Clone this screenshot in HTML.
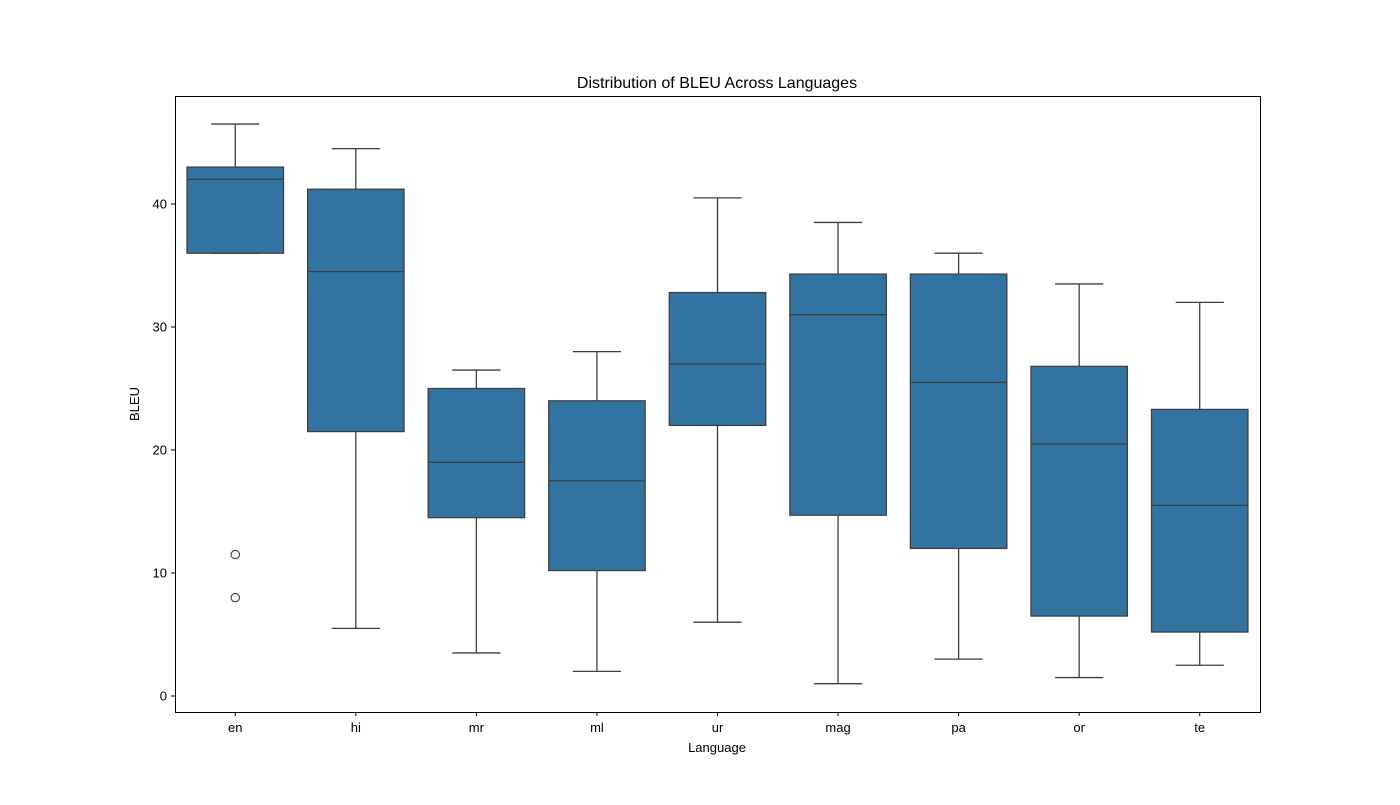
<!DOCTYPE html>
<html><head><meta charset="utf-8"><style>
body{margin:0;background:#fff;}
svg text{font-family:"Liberation Sans","DejaVu Sans",sans-serif;fill:#000;}
</style></head><body>
<svg id="chart" width="1400" height="800" xmlns="http://www.w3.org/2000/svg">
<rect width="1400" height="800" fill="#fff"/>
<text x="717" y="88" font-size="16" text-anchor="middle">Distribution of BLEU Across Languages</text>
<g id="marks"></g>
<g id="axes"></g>
<rect x="175.5" y="96.5" width="1085" height="616" fill="none" stroke="#000" stroke-width="1"/>
<text x="717" y="752" font-size="13" text-anchor="middle">Language</text>
<text x="139" y="404" font-size="13" text-anchor="middle" transform="rotate(-90 139 404)">BLEU</text>
</svg>
<script>
const categories=["en","hi","mr","ml","ur","mag","pa","or","te"];
const whiskerLow=[36,5.5,3.5,2,6,1,3,1.5,2.5];
const q1=[36,21.5,14.5,10.2,22,14.7,12,6.5,5.2];
const median=[42,34.5,19,17.5,27,31,25.5,20.5,15.5];
const q3=[43,41.2,25,24,32.8,34.3,34.3,26.8,23.3];
const whiskerHigh=[46.5,44.5,26.5,28,40.5,38.5,36,33.5,32];
const outliers=[[11.5,8],[],[],[],[],[],[],[],[]];
const yTicks=[0,10,20,30,40];

const NS="http://www.w3.org/2000/svg";
const plotLeft=175,plotRight=1260,plotTop=96,plotBottom=712;
const yMin=-1.3,yMax=48.78;
function ys(v){return plotBottom-(v-yMin)/(yMax-yMin)*(plotBottom-plotTop);}
const band=(plotRight-plotLeft)/categories.length;
function xs(i){return plotLeft+band*(i+0.5);}
const boxW=band*0.8;
function mk(tag,attrs,parent){const e=document.createElementNS(NS,tag);for(const k in attrs)e.setAttribute(k,attrs[k]);parent.appendChild(e);return e;}
const marks=document.getElementById('marks');
const axes=document.getElementById('axes');
const lc="#3f3f3f";
categories.forEach((c,i)=>{
  const g=mk('g',{},marks);
  
  
  const cx=xs(i);
  const w1=mk('line',{x1:cx,x2:cx,y1:ys(q1[i]),y2:ys(whiskerLow[i]),stroke:lc,'stroke-width':1.3},g);
  
  
  const w2=mk('line',{x1:cx,x2:cx,y1:ys(q3[i]),y2:ys(whiskerHigh[i]),stroke:lc,'stroke-width':1.3},g);
  
  
  [whiskerLow[i],whiskerHigh[i]].forEach((v,j)=>{
    const cap=mk('line',{x1:cx-boxW/4,x2:cx+boxW/4,y1:ys(v),y2:ys(v),stroke:lc,'stroke-width':1.3},g);
    
    
  });
  const r=mk('rect',{x:cx-boxW/2,y:ys(q3[i]),width:boxW,height:ys(q1[i])-ys(q3[i]),fill:"#3274a1",stroke:lc,'stroke-width':1.3},g);
  
  
  const m=mk('line',{x1:cx-boxW/2,x2:cx+boxW/2,y1:ys(median[i]),y2:ys(median[i]),stroke:lc,'stroke-width':1.3},g);
  
  
  outliers[i].forEach(v=>{
    const o=mk('circle',{cx:cx,cy:ys(v),r:4.2,fill:"none",stroke:lc,'stroke-width':1.1},g);
    
    
  });
  const t=mk('line',{x1:cx,x2:cx,y1:plotBottom,y2:plotBottom+4,stroke:"#000",'stroke-width':1},axes);
  
  
  const l=mk('text',{x:cx,y:plotBottom+20,'font-size':13,'text-anchor':'middle'},axes);
  l.textContent=c;
  
  
});
yTicks.forEach(v=>{
  const y=ys(v);
  const t=mk('line',{x1:plotLeft-4,x2:plotLeft,y1:y,y2:y,stroke:"#000",'stroke-width':1},axes);
  
  
  const l=mk('text',{x:plotLeft-8,y:y+4.5,'font-size':13,'text-anchor':'end'},axes);
  l.textContent=v;
  
  
});
</script>
</body></html>
